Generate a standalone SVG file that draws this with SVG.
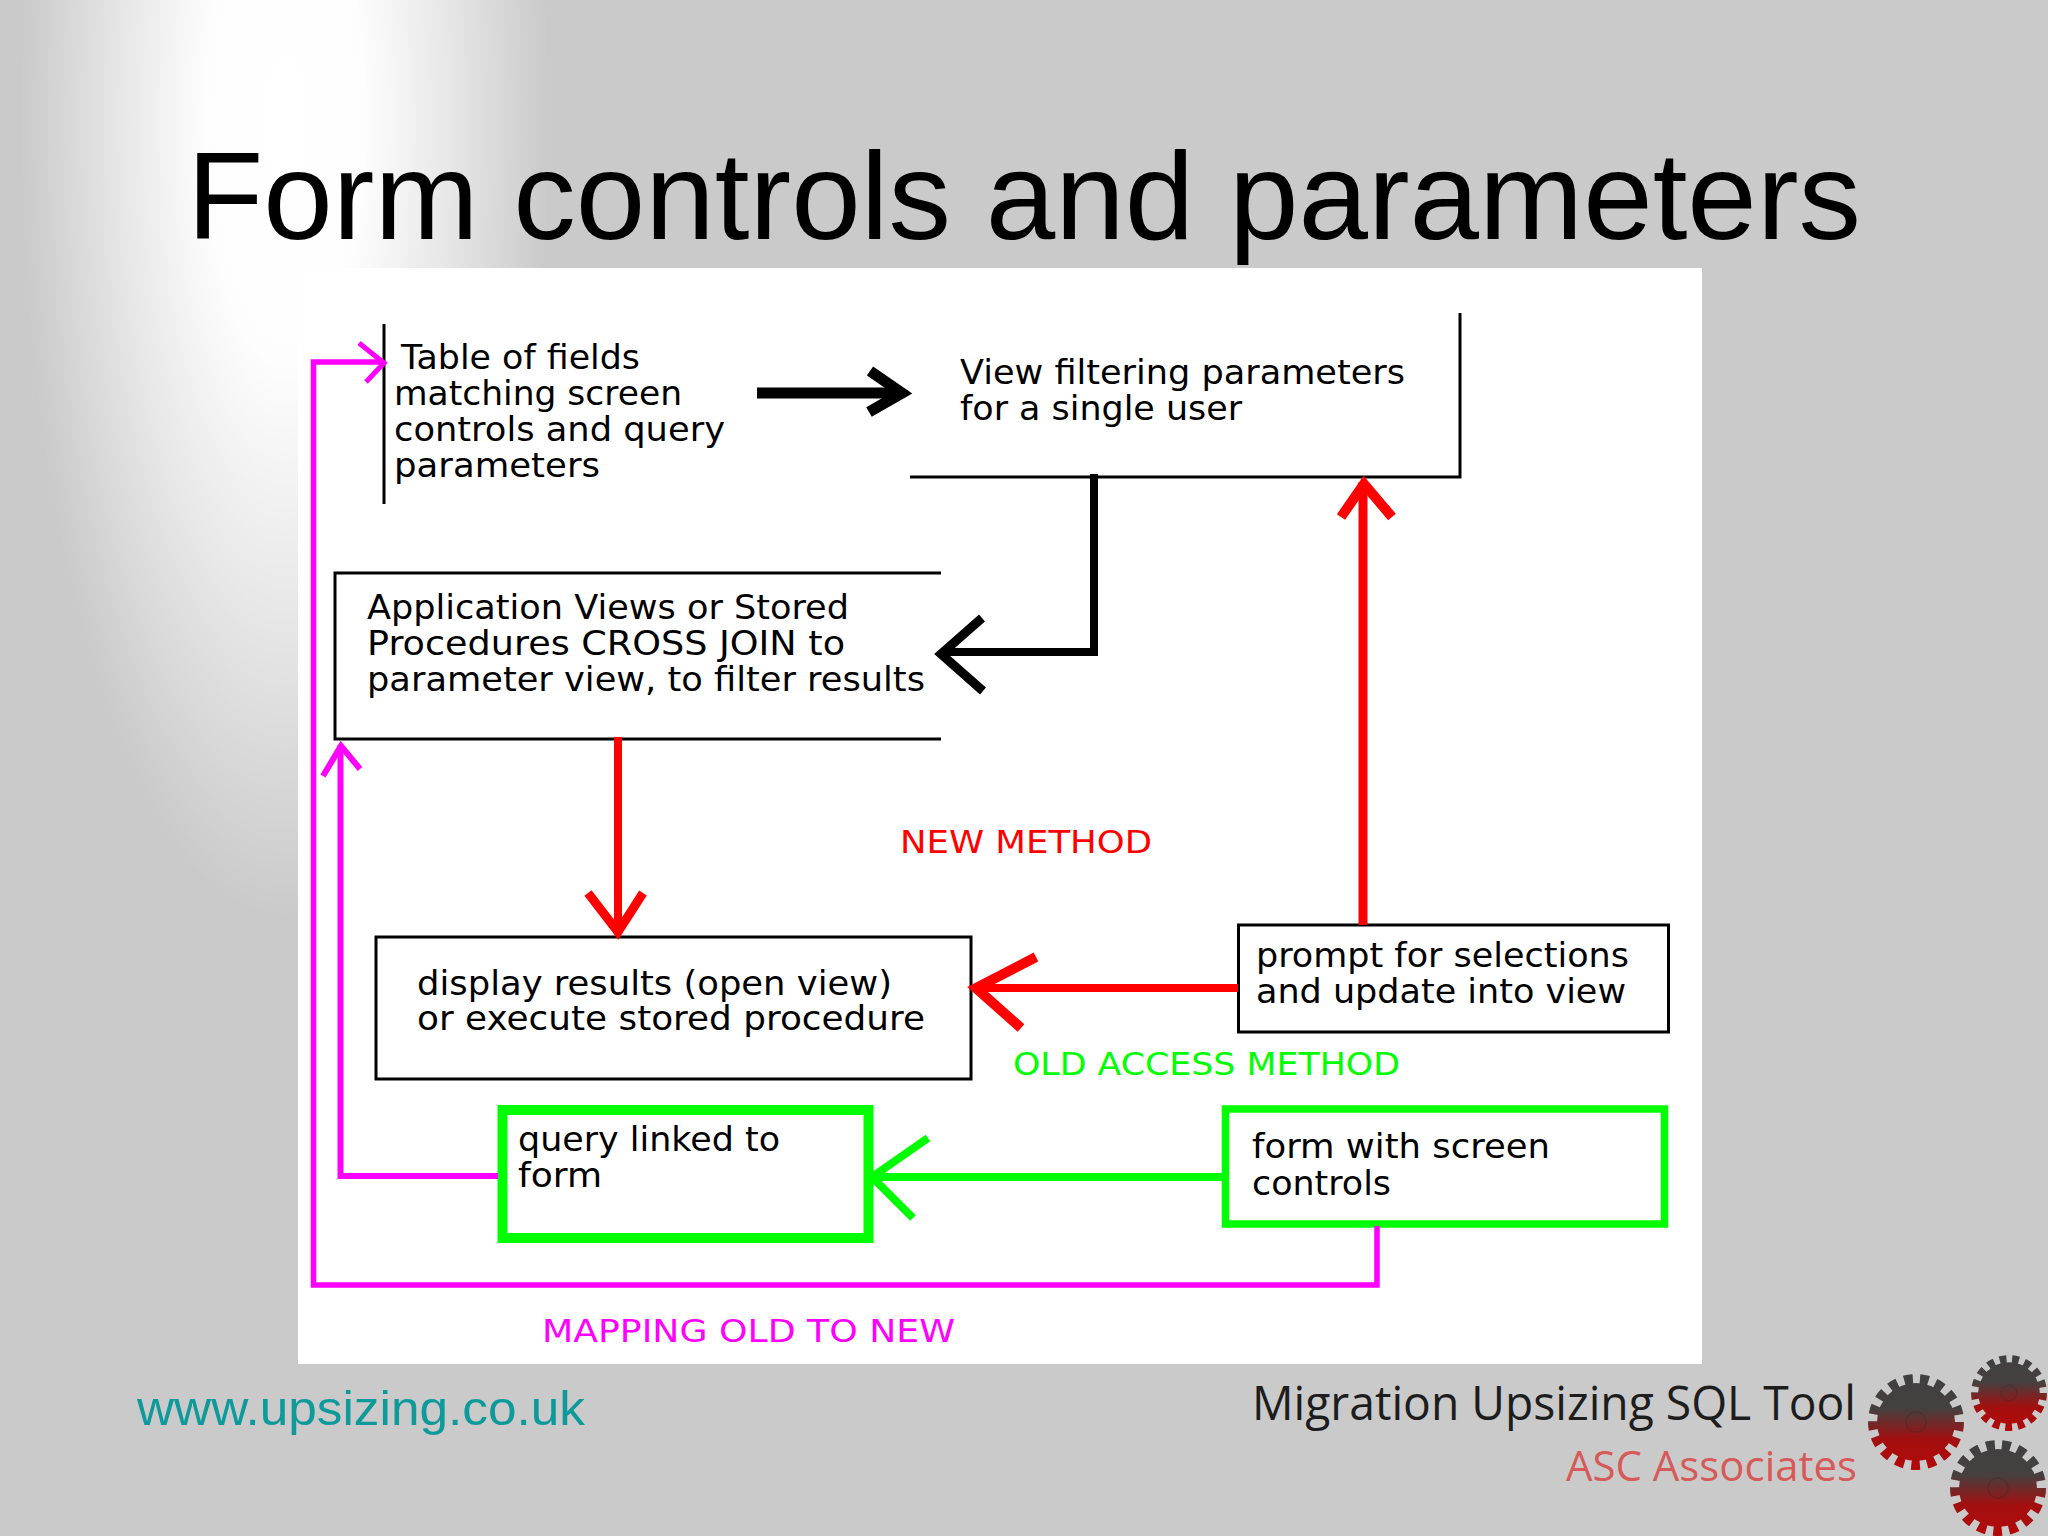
<svg xmlns="http://www.w3.org/2000/svg" width="2048" height="1536" viewBox="0 0 2048 1536">
<style>
.t{font-family:"DejaVu Sans",sans-serif;font-size:33px;fill:#000}
.lab{font-family:"DejaVu Sans",sans-serif;font-size:32px}
.box{fill:#fff;stroke:#000;stroke-width:3}
.edge{fill:none;stroke:#000;stroke-width:3}
.g{fill:#fff;stroke:#00ff00}
.c{fill:none;stroke-linejoin:miter;stroke-linecap:butt}
.k{stroke:#000}.r{stroke:#ff0000}.e{stroke:#00ff00}.m{stroke:#ff00ff}
.gear-hub{fill:none;stroke:#2a2a2a;stroke-opacity:.3;stroke-width:1.5}
</style>
<defs>
<radialGradient id="glow" gradientUnits="userSpaceOnUse" cx="0" cy="0" r="1" gradientTransform="translate(285 120) scale(265 800)">
<stop offset="0" stop-color="#fff" stop-opacity="1"/>
<stop offset=".3" stop-color="#fff" stop-opacity=".97"/>
<stop offset=".62" stop-color="#fff" stop-opacity=".55"/>
<stop offset="1" stop-color="#fff" stop-opacity="0"/>
</radialGradient>
<linearGradient id="gearFill" gradientUnits="userSpaceOnUse" x1="0" y1="-48" x2="0" y2="48">
<stop offset="0" stop-color="#404040"/>
<stop offset=".36" stop-color="#454040"/>
<stop offset=".68" stop-color="#a30f0f"/>
<stop offset="1" stop-color="#b30a0a"/>
</linearGradient>
<g id="gear">
<circle r="39" fill="url(#gearFill)"/>
<circle r="42" fill="none" stroke="url(#gearFill)" stroke-width="12" pathLength="34" stroke-dasharray="1.100 .900"/>
<circle r="10" class="gear-hub"/>
</g>
</defs>

<g id="background">
<rect width="2048" height="1536" fill="#cacacb"/>
<rect width="600" height="1000" fill="url(#glow)"/>
</g>

<text id="title" x="187" y="239" font-family="'Liberation Sans',Arial,sans-serif" font-size="124" fill="#000" textLength="1674" lengthAdjust="spacingAndGlyphs">Form controls and parameters</text>

<rect id="picture" x="298" y="268" width="1404" height="1096" fill="#fff"/>

<g id="node-table">
<path class="edge" d="M384 324V504"/>
<text class="t" x="401" y="369" textLength="239" lengthAdjust="spacingAndGlyphs">Table of fields</text>
<text class="t" x="394" y="405" textLength="288" lengthAdjust="spacingAndGlyphs">matching screen</text>
<text class="t" x="394" y="441" textLength="331" lengthAdjust="spacingAndGlyphs">controls and query</text>
<text class="t" x="394" y="477" textLength="206" lengthAdjust="spacingAndGlyphs">parameters</text>
</g>

<g id="node-view">
<path class="edge" d="M910 477H1460V313"/>
<text class="t" x="960" y="384" textLength="445" lengthAdjust="spacingAndGlyphs">View filtering parameters</text>
<text class="t" x="960" y="420" textLength="282" lengthAdjust="spacingAndGlyphs">for a single user</text>
</g>

<g id="node-app">
<path class="edge" d="M941 573H335V739H941"/>
<text class="t" x="367" y="619" textLength="482" lengthAdjust="spacingAndGlyphs">Application Views or Stored</text>
<text class="t" x="367" y="655" textLength="478" lengthAdjust="spacingAndGlyphs">Procedures CROSS JOIN to</text>
<text class="t" x="367" y="691" textLength="558" lengthAdjust="spacingAndGlyphs">parameter view, to filter results</text>
</g>

<g id="node-display">
<rect class="box" x="376" y="937" width="595" height="142"/>
<text class="t" x="417" y="995" textLength="475" lengthAdjust="spacingAndGlyphs">display results (open view)</text>
<text class="t" x="417" y="1030" textLength="508" lengthAdjust="spacingAndGlyphs">or execute stored procedure</text>
</g>

<g id="node-prompt">
<rect class="box" x="1238.500" y="925" width="430" height="107"/>
<text class="t" x="1256" y="967" textLength="373" lengthAdjust="spacingAndGlyphs">prompt for selections</text>
<text class="t" x="1256" y="1003" textLength="370" lengthAdjust="spacingAndGlyphs">and update into view</text>
</g>

<g id="node-query">
<rect class="g" x="502.500" y="1110" width="366" height="128" stroke-width="10"/>
<text class="t" x="518" y="1151" textLength="262" lengthAdjust="spacingAndGlyphs">query linked to</text>
<text class="t" x="518" y="1187" textLength="84" lengthAdjust="spacingAndGlyphs">form</text>
</g>

<g id="node-form">
<rect class="g" x="1225.500" y="1109" width="439" height="115" stroke-width="7.500"/>
<text class="t" x="1252" y="1158" textLength="298" lengthAdjust="spacingAndGlyphs">form with screen</text>
<text class="t" x="1252" y="1195" textLength="139" lengthAdjust="spacingAndGlyphs">controls</text>
</g>

<g id="connectors">
<path class="c k" stroke-width="11" d="M757 393H900"/>
<path class="c k" stroke-width="11" d="M870 371L902 393L869 412"/>
<path class="c k" stroke-width="8" d="M1094 474V652H945"/>
<path class="c k" stroke-width="9" d="M982 618L941 654L983 691"/>
<path class="c r" stroke-width="8" d="M618 737V932"/>
<path class="c r" stroke-width="9" d="M588 893L618 932L643 893"/>
<path class="c r" stroke-width="9" d="M1363 925V482"/>
<path class="c r" stroke-width="10" d="M1341 517L1364 484L1392 517"/>
<path class="c r" stroke-width="8" d="M1238 988H978"/>
<path class="c r" stroke-width="10" d="M1036 957L976 988L1021 1028"/>
<path class="c e" stroke-width="8" d="M1222 1177H874"/>
<path class="c e" stroke-width="8" d="M928 1138L872 1177L913 1218"/>
<path class="c m" stroke-width="6" d="M498 1176H340.500V745"/>
<path class="c m" stroke-width="6" d="M323 776L341 746L360 769"/>
<path class="c m" stroke-width="5.500" d="M1377 1226V1285H313.500V362H383"/>
<path class="c m" stroke-width="5" d="M359 343L384 363L366 382"/>
</g>

<g id="labels">
<text class="lab" x="900" y="853" fill="#ff0000" textLength="252" lengthAdjust="spacingAndGlyphs">NEW METHOD</text>
<text class="lab" x="1013" y="1075" fill="#00ff00" textLength="387" lengthAdjust="spacingAndGlyphs">OLD ACCESS METHOD</text>
<text class="lab" x="542" y="1342" fill="#ff00ff" textLength="413" lengthAdjust="spacingAndGlyphs">MAPPING OLD TO NEW</text>
</g>

<text id="url" x="137" y="1425" font-family="'Liberation Sans',Arial,sans-serif" font-size="49" fill="#0e9a9a" textLength="448" lengthAdjust="spacingAndGlyphs">www.upsizing.co.uk</text>

<g id="logo">
<text x="1252" y="1420" font-family="'Open Sans',sans-serif" font-size="48" fill="#1d1d1d" textLength="604" lengthAdjust="spacingAndGlyphs">Migration Upsizing SQL Tool</text>
<text x="1566" y="1481" font-family="'Open Sans',sans-serif" font-size="42" fill="#d65a58" textLength="291" lengthAdjust="spacingAndGlyphs">ASC Associates</text>
<use href="#gear" transform="translate(1916 1422)"/>
<use href="#gear" transform="translate(2009 1393) scale(.79)"/>
<use href="#gear" transform="translate(1998 1488)"/>
</g>
</svg>
